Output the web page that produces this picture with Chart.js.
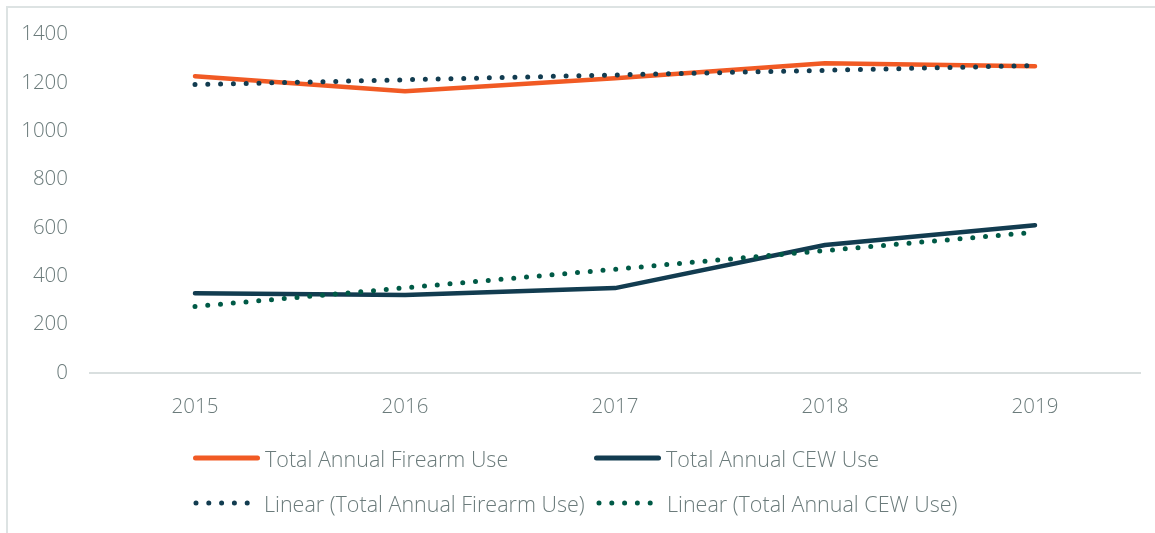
<!DOCTYPE html>
<html>
<head>
<meta charset="utf-8">
<script src="https://cdn.jsdelivr.net/npm/chart.js@4.4.1/dist/chart.umd.min.js"></script>
<style>
  html, body { margin: 0; padding: 0; background: #fff; width: 1155px; height: 533px; overflow: hidden; }
  #frame { position: absolute; left: 6px; top: 6px; width: 1200px; height: 600px; border-left: 2px solid #dde3e3; border-top: 2px solid #dde3e3; box-sizing: border-box; }
  #wrap { position: absolute; left: 0; top: 0; width: 1155px; height: 420px; }
  #legend { position: absolute; left: 0; top: 0; width: 1155px; height: 533px; pointer-events: none;
            font-family: "Open Sans", sans-serif; font-weight: 300; font-size: 21.5px; color: #6b7b7b; }
  .item { position: absolute; display: flex; align-items: center; white-space: nowrap; }
  .item svg { display: block; }
  .item span { margin-left: 5px; }
</style>
</head>
<body>
<div id="frame"></div>
<div id="wrap"><canvas id="c" width="1155" height="420"></canvas></div>
<div id="legend"></div>
<script>
const categories = ["2015", "2016", "2017", "2018", "2019"];
const firearmUse = [1227, 1165, 1218, 1280, 1268];
const cewUse = [330, 322, 351, 529, 611];
const firearmTrend = [1192, 1212, 1232, 1251, 1271];
const cewTrend = [275, 352, 429, 506, 582];
const yTicks = [0, 200, 400, 600, 800, 1000, 1200, 1400];
const seriesNames = ["Total Annual Firearm Use", "Total Annual CEW Use",
                     "Linear (Total Annual Firearm Use)", "Linear (Total Annual CEW Use)"];

const ORANGE = "#f15a24", NAVY = "#123c50", GREEN = "#005a46", TEXT = "#6b7b7b", AXIS = "#d9dfdf";
const DOT = [0, 12.8];
const TICKFONT = { family: "Open Sans", size: 20.5, weight: 300 };

const ctx = document.getElementById("c");
new Chart(ctx, {
  type: "line",
  data: {
    labels: categories,
    datasets: [
      { label: seriesNames[2], data: firearmTrend, borderColor: NAVY, borderWidth: 5, borderDash: DOT, borderCapStyle: "round", pointRadius: 0, tension: 0, order: 1 },
      { label: seriesNames[3], data: cewTrend, borderColor: GREEN, borderWidth: 5, borderDash: DOT, borderCapStyle: "round", pointRadius: 0, tension: 0, order: 1 },
      { label: seriesNames[0], data: firearmUse, borderColor: ORANGE, borderWidth: 4.5, borderCapStyle: "round", borderJoinStyle: "round", pointRadius: 0, tension: 0, order: 2 },
      { label: seriesNames[1], data: cewUse, borderColor: NAVY, borderWidth: 4.5, borderCapStyle: "round", borderJoinStyle: "round", pointRadius: 0, tension: 0, order: 2 }
    ]
  },
  options: {
    responsive: false,
    animation: false,
    devicePixelRatio: 1,
    layout: { padding: { left: 0, right: 15, top: 34, bottom: 0 } },
    plugins: { legend: { display: false }, tooltip: { enabled: false } },
    scales: {
      x: {
        offset: true,
        grid: { display: false, drawTicks: false },
        border: { display: true, color: AXIS, width: 2 },
        ticks: { color: TEXT, font: TICKFONT, padding: 22 },
        afterFit: s => { s.height = 47; }
      },
      y: {
        min: 0, max: 1400,
        afterBuildTicks: s => { s.ticks = yTicks.map(v => ({ value: v })); },
        grid: { display: false, drawTicks: false },
        border: { display: false },
        ticks: { color: TEXT, font: TICKFONT, padding: 22, callback: v => String(v) },
        afterFit: s => { s.width = 90; }
      }
    }
  }
});

// HTML legend
const legendItems = [
  { name: seriesNames[0], color: ORANGE, dotted: false, x: 193, y: 458 },
  { name: seriesNames[1], color: NAVY, dotted: false, x: 594, y: 458 },
  { name: seriesNames[2], color: NAVY, dotted: true, x: 193, y: 503 },
  { name: seriesNames[3], color: GREEN, dotted: true, x: 596, y: 503 }
];
const lg = document.getElementById("legend");
legendItems.forEach(it => {
  const d = document.createElement("div");
  d.className = "item";
  d.style.left = it.x + "px";
  d.style.top = (it.y - 15) + "px";
  d.style.height = "30px";
  const w = it.dotted ? 66 : 67;
  const line = it.dotted
    ? `<line x1="3" y1="15" x2="${w - 6}" y2="15" stroke="${it.color}" stroke-width="5" stroke-linecap="round" stroke-dasharray="0 12.8"/>`
    : `<line x1="2.5" y1="15" x2="${w - 2.5}" y2="15" stroke="${it.color}" stroke-width="5" stroke-linecap="round"/>`;
  d.innerHTML = `<svg width="${w}" height="30">${line}</svg><span>${it.name}</span>`;
  lg.appendChild(d);
});
</script>
</body>
</html>
